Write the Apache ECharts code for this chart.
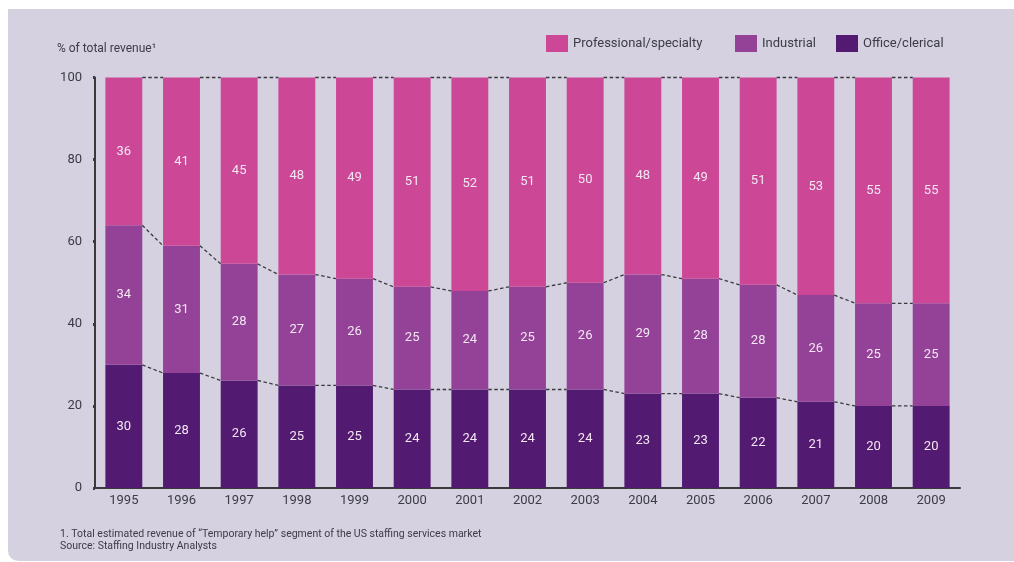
<!DOCTYPE html>
<html>
<head>
<meta charset="utf-8">
<script src="https://cdn.jsdelivr.net/npm/echarts@6/dist/echarts.min.js"></script>
<style>
html,body{margin:0;padding:0;background:#ffffff;}
#c{width:1014px;height:562px;}
</style>
</head>
<body>
<div id="c"></div>
<script>
var years = ['1995','1996','1997','1998','1999','2000','2001','2002','2003','2004','2005','2006','2007','2008','2009'];
var office = [30, 28, 26.2, 25, 25, 24, 24, 24, 24, 23, 23, 22, 21, 20, 20];
var industrial = [34, 31, 28.4, 27, 26, 25, 24, 25, 26, 29, 28, 27.5, 26, 25, 25];
var professional = [36, 41, 45.4, 48, 49, 51, 52, 51, 50, 48, 49, 50.5, 53, 55, 55];
var yTicks = [0, 20, 40, 60, 80, 100];

var COL_PRO = '#cc4897';
var COL_IND = '#944297';
var COL_OFF = '#521a70';
var TXT = '#3c3b46';
var BAR_RATIO = 0.64;

// connector data built from the arrays
var connData = [];
for (var i = 0; i < years.length - 1; i++) {
  var b1a = office[i], b1b = office[i + 1];
  var b2a = office[i] + industrial[i], b2b = office[i + 1] + industrial[i + 1];
  var b3a = b2a + professional[i], b3b = b2b + professional[i + 1];
  connData.push([i, i + 1, b1a, b1b, b2a, b2b, b3a, b3b]);
}

var labelOpt = {
  show: true,
  position: 'inside',
  color: '#f3e6f3',
  fontSize: 13,
  fontFamily: 'Roboto',
  formatter: function (p) { return Math.round(p.value); }
};

var legendText = { color: TXT, fontSize: 13, fontFamily: 'Roboto' };

var chart = echarts.init(document.getElementById('c'));
chart.setOption({
  backgroundColor: 'transparent',
  animation: false,
  textStyle: { fontFamily: 'Roboto' },
  graphic: [
    {
      type: 'rect', z: -10, silent: true,
      shape: { x: 8, y: 9, width: 1020, height: 552, r: [0, 0, 0, 10] },
      style: { fill: '#d5d1e0' }
    },
    {
      type: 'text', left: 57, top: 43,
      style: { text: '% of total revenue¹', fill: TXT, font: '12px Roboto' }
    },
    {
      type: 'text', left: 60, top: 528,
      style: { text: '1. Total estimated revenue of \u201cTemporary help\u201d segment of the US staffing services market\nSource: Staffing Industry Analysts', fill: TXT, font: '10.5px Roboto', lineHeight: 12 }
    }
  ],
  legend: [
    {
      left: 546, top: 35, padding: 0,
      itemWidth: 22, itemHeight: 17,
      icon: 'rect',
      data: ['Professional/specialty'],
      textStyle: legendText
    },
    {
      left: 735, top: 35, padding: 0,
      itemWidth: 22, itemHeight: 17, itemGap: 20,
      icon: 'rect',
      data: ['Industrial', 'Office/clerical'],
      textStyle: legendText
    }
  ],
  grid: { left: 95, right: 54, top: 77.5, bottom: 74, containLabel: false },
  xAxis: {
    type: 'category',
    data: years,
    axisLine: { show: true, lineStyle: { color: '#3a3a3e', width: 2 } },
    axisTick: { show: false },
    axisLabel: { color: TXT, fontSize: 13, margin: 6 }
  },
  yAxis: {
    type: 'value',
    min: 0, max: 100, interval: 20,
    axisLine: { show: true, lineStyle: { color: '#3a3a3e', width: 2 } },
    axisTick: { show: true, length: 2, lineStyle: { color: '#3a3a3e', width: 3 } },
    splitLine: { show: false },
    axisLabel: { color: TXT, fontSize: 13, margin: 13,
      formatter: function (v) { return yTicks.indexOf(v) >= 0 ? String(v) : ''; } }
  },
  series: [
    {
      name: 'Office/clerical', type: 'bar', stack: 'a', barWidth: '64%',
      data: office, itemStyle: { color: COL_OFF }, label: labelOpt
    },
    {
      name: 'Industrial', type: 'bar', stack: 'a', barWidth: '64%',
      data: industrial, itemStyle: { color: COL_IND }, label: labelOpt
    },
    {
      name: 'Professional/specialty', type: 'bar', stack: 'a', barWidth: '64%',
      data: professional, itemStyle: { color: COL_PRO }, label: labelOpt
    },
    {
      name: 'connectors', type: 'custom', z: 10, silent: true,
      data: connData,
      encode: { x: [0, 1], y: [2, 3, 4, 5, 6, 7] },
      renderItem: function (params, api) {
        var half = api.size([1, 0])[0] * BAR_RATIO / 2;
        var ia = api.value(0), ib = api.value(1);
        var children = [];
        for (var k = 0; k < 3; k++) {
          var pa = api.coord([ia, api.value(2 + k * 2)]);
          var pb = api.coord([ib, api.value(3 + k * 2)]);
          children.push({
            type: 'line',
            shape: { x1: pa[0] + half, y1: pa[1], x2: pb[0] - half, y2: pb[1] },
            style: { stroke: '#3a3a3e', lineWidth: 1.3, lineDash: [3.5, 2.5] }
          });
        }
        return { type: 'group', children: children };
      }
    }
  ]
});
</script>
</body>
</html>
